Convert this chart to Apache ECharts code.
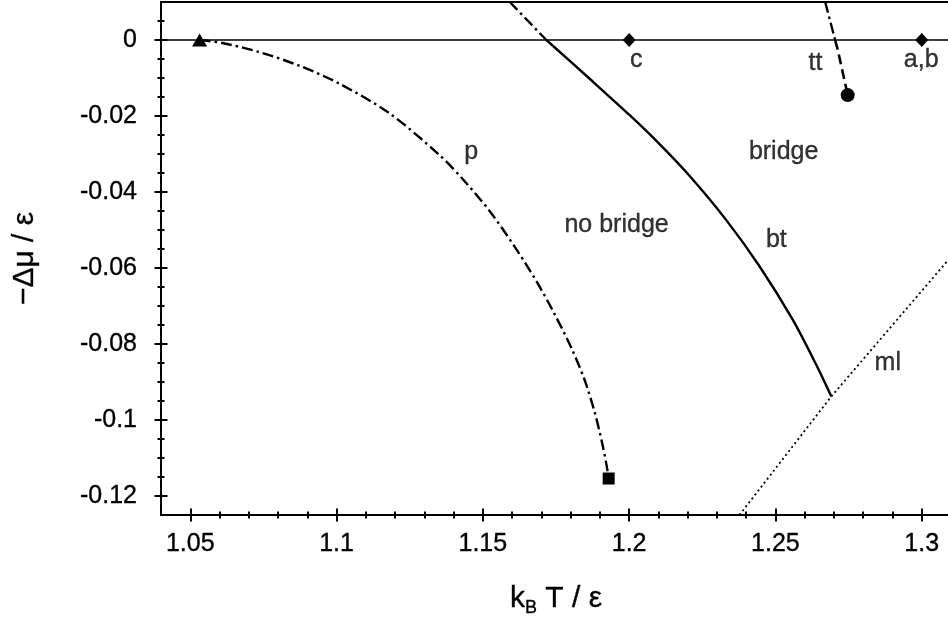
<!DOCTYPE html>
<html><head><meta charset="utf-8">
<script src="https://cdn.jsdelivr.net/npm/echarts@6/dist/echarts.min.js"></script>
<style>html,body{margin:0;padding:0;background:#fff}#c{width:948px;height:624px}</style>
</head><body><div id="c"></div>
<script>
// ---- tick values ----
const xTickLabels = [1.05, 1.1, 1.15, 1.2, 1.25, 1.3];
const xMinorTicks = [1.06,1.07,1.08,1.09,1.11,1.12,1.13,1.14,1.16,1.17,1.18,1.19,1.21,1.22,1.23,1.24,1.26,1.27,1.28,1.29];
const yTickLabels = [-0.12, -0.1, -0.08, -0.06, -0.04, -0.02, 0];
const yMinorTicks = [-0.115,-0.11,-0.105,-0.095,-0.09,-0.085,-0.075,-0.07,-0.065,-0.055,-0.05,-0.045,-0.035,-0.03,-0.025,-0.015,-0.01,-0.005,0.005];

// ---- curves (kT/eps, -dmu/eps) ----
const zeroLine = [[1.04, 0], [1.31, 0]];
const pCurve = [[1.0532,0],[1.0610,-0.0008],[1.0737,-0.0032],[1.0874,-0.0068],[1.1010,-0.0115],[1.1181,-0.0193],[1.1352,-0.0303],[1.1437,-0.0371],[1.1523,-0.0450],[1.1608,-0.0543],[1.1684,-0.0636],[1.1745,-0.0721],[1.1803,-0.0811],[1.1848,-0.0895],[1.1882,-0.0979],[1.1909,-0.1065],[1.1923,-0.1120],[1.1930,-0.1152]];
const btUpper = [[1.1592,0.0100],[1.1717,0]];
const btCurve = [[1.1717,0],[1.1865,-0.0102],[1.2002,-0.0198],[1.2104,-0.0274],[1.2207,-0.0358],[1.2332,-0.0474],[1.2446,-0.0596],[1.2559,-0.0736],[1.2639,-0.0854],[1.2691,-0.0938]];
const mlLine = [[1.2377,-0.125],[1.2691,-0.0938],[1.3085,-0.0584],[1.31,-0.0571]];
const ttUpper = [[1.2670,0.0100],[1.2704,0]];
const ttLower = [[1.2704,0],[1.2713,-0.0026],[1.2747,-0.0145]];

// ---- marked points ----
const triangleMark = [[1.0532, 0]];
const squareMark = [[1.1930, -0.1154]];
const circleMark = [[1.2747, -0.0145]];
const diamondMarks = [[1.2, 0], [1.3, 0]];

// ---- annotations ----
const annotNames = ['p', 'no bridge', 'bridge', 'bt', 'ml', 'tt', 'c', 'a,b'];
const annotPos = [[1.1460,-0.0294],[1.1957,-0.0487],[1.2528,-0.0295],[1.2503,-0.0526],[1.2884,-0.0851],[1.2637,-0.0061],[1.2024,-0.0053],[1.2998,-0.0053]];

const FONT = 'Liberation Sans, Arial, Helvetica, sans-serif';
const BLACK = '#000';
const fmt = v => String(+(+v).toFixed(4));
const TB = { textBorderColor: '#000', textBorderWidth: 0.35 };

function xAxisDef(kind, ticks, half) {
  const main = kind === 'main';
  const a = {
    type: 'value', min: 1.04, max: 1.31, position: 'bottom', gridIndex: 0,
    offset: main ? 0 : -half,
    axisLine: { show: main, onZero: false, lineStyle: { color: BLACK, width: 2 } },
    axisTick: main ? { show: false } : { show: true, customValues: ticks, inside: false, length: half * 2, lineStyle: { color: BLACK, width: 2 } },
    axisLabel: Object.assign({ show: main, customValues: xTickLabels, color: BLACK, fontSize: 25, fontFamily: FONT, margin: 17, formatter: fmt }, TB),
    splitLine: { show: false }, minorTick: { show: false }
  };
  if (main) {
    a.name = '{a|k}{s|B}{a| T / ε}';
    a.nameLocation = 'middle';
    a.nameGap = 65;
    a.nameTextStyle = {
      color: BLACK, fontFamily: FONT, fontSize: 30,
      rich: {
        a: Object.assign({ fontSize: 30, fontFamily: FONT, color: BLACK, lineHeight: 37 }, TB),
        s: Object.assign({ fontSize: 18, fontFamily: FONT, color: BLACK, lineHeight: 17, verticalAlign: 'bottom' }, TB)
      }
    };
  }
  return a;
}
function yAxisDef(kind, ticks, half) {
  const main = kind === 'main';
  const a = {
    type: 'value', min: -0.125, max: 0.01, position: 'left', gridIndex: 0,
    offset: main ? 0 : -half,
    axisLine: { show: main, onZero: false, lineStyle: { color: BLACK, width: 2 } },
    axisTick: main ? { show: false } : { show: true, customValues: ticks, inside: false, length: half * 2, lineStyle: { color: BLACK, width: 2 } },
    axisLabel: Object.assign({ show: main, customValues: yTickLabels, color: BLACK, fontSize: 25, fontFamily: FONT, margin: 24, formatter: fmt }, TB),
    splitLine: { show: false }, minorTick: { show: false }
  };
  if (main) {
    a.name = '\u2212\u0394\u03bc / \u03b5';
    a.nameLocation = 'middle';
    a.nameGap = 121;
    a.nameTextStyle = Object.assign({ color: BLACK, fontFamily: FONT, fontSize: 30 }, TB);
  }
  return a;
}

const dashDot = [11, 4, 2.5, 4];
function lineSeries(data, type, width, smooth) {
  return {
    type: 'line', data: data, xAxisIndex: 0, yAxisIndex: 0,
    symbol: 'none', smooth: smooth, silent: true, animation: false,
    lineStyle: { color: BLACK, width: width, type: type, cap: 'butt', opacity: 1 }, z: 3
  };
}
function markSeries(data, symbol, size) {
  return {
    type: 'scatter', data: data, xAxisIndex: 0, yAxisIndex: 0,
    symbol: symbol, symbolSize: size, itemStyle: { color: BLACK, opacity: 1 }, silent: true, animation: false, z: 5
  };
}

const option = {
  animation: false,
  backgroundColor: '#fff',
  grid: { left: 161, top: 2, width: 790, height: 513, show: true, borderColor: BLACK, borderWidth: 2, backgroundColor: 'transparent', containLabel: false, outerBoundsMode: 'none' },
  xAxis: [
    xAxisDef('main', null, 0),
    xAxisDef('ticks', xTickLabels, 6.5),
    xAxisDef('ticks', xMinorTicks, 3.5)
  ],
  yAxis: [
    yAxisDef('main', null, 0),
    yAxisDef('ticks', yTickLabels, 6.5),
    yAxisDef('ticks', yMinorTicks, 3.5)
  ],
  series: [
    lineSeries(zeroLine, 'solid', 1.3, false),
    lineSeries(pCurve, dashDot, 2.4, 0.3),
    lineSeries(btUpper, dashDot, 2.4, false),
    lineSeries(btCurve, 'solid', 2.4, 0.3),
    lineSeries(mlLine, [2, 3], 1.8, false),
    lineSeries(ttUpper, dashDot, 2.4, false),
    lineSeries(ttLower, [10, 5], 2.6, false),
    markSeries(triangleMark, 'triangle', [15, 13]),
    markSeries(squareMark, 'rect', 12),
    markSeries(circleMark, 'circle', 14),
    markSeries(diamondMarks, 'diamond', [13, 14]),
    {
      type: 'scatter', xAxisIndex: 0, yAxisIndex: 0, silent: true, animation: false,
      symbolSize: 0.001, itemStyle: { color: 'transparent' },
      data: annotNames.map((n, i) => ({ name: n, value: annotPos[i] })),
      label: Object.assign({ show: true, position: 'inside', formatter: '{b}', color: BLACK, fontSize: 25, fontFamily: FONT }, TB),
      z: 6
    }
  ]
};

const chart = echarts.init(document.getElementById('c'), null, { renderer: 'canvas' });
chart.setOption(option);
</script>
</body></html>
